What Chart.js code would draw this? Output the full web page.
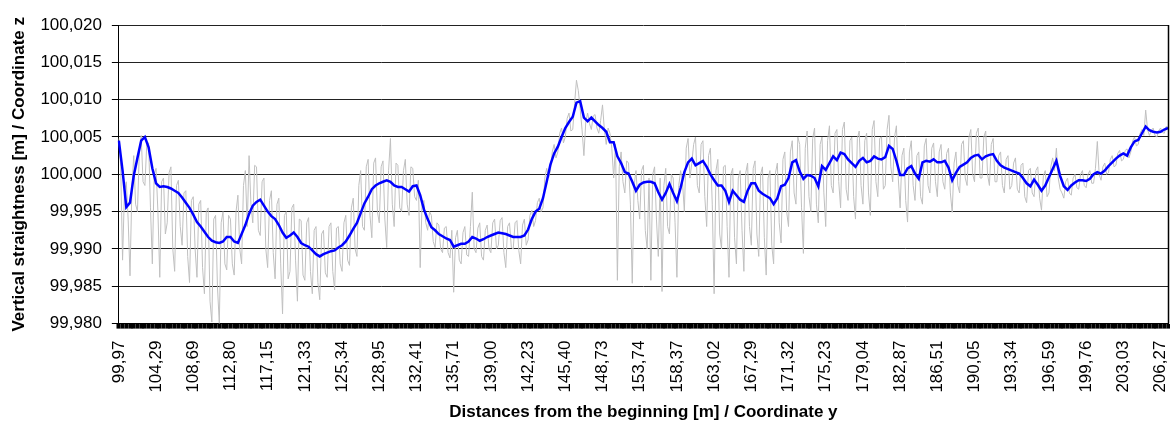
<!DOCTYPE html>
<html lang="en">

<head>
    <meta charset="UTF-8">
    <script src="https://cdn.jsdelivr.net/npm/chart.js@4.4.1/dist/chart.umd.min.js"></script>
    <title>Vertical straightness</title>
    <style>
        body { margin: 0; background: #fff; }
    </style>
</head>

<body>
    <canvas id="myChart" width="1170" height="421"></canvas>
    <script>

        // x labels shown on the axis (one every 10 smoothed points)
        const tickLabels = ['99,97', '104,29', '108,69', '112,80', '117,15', '121,33', '125,34', '128,95', '132,41',
            '135,71', '139,00', '142,23', '145,40', '148,73', '153,74', '158,37', '163,02', '167,29', '171,32',
            '175,23', '179,04', '182,87', '186,51', '190,05', '193,34', '196,59', '199,76', '203,03', '206,27'];
        const pointsPerLabel = 10;

        // y axis
        const yMin = 99.980;
        const yMax = 100.020;
        const yStep = 0.005;

        // smoothed line (blue), 10 points between two labels
        const smoothValues = [
            100.0045, 100.0005, 99.9956, 99.9962, 99.9998, 100.0022, 100.0045, 100.0050, 100.0036, 100.0008,
            99.9988, 99.9983, 99.9984, 99.9983, 99.9981, 99.9978, 99.9975, 99.9969, 99.9962, 99.9955,
            99.9946, 99.9936, 99.9930, 99.9923, 99.9916, 99.9911, 99.9909, 99.9908, 99.9910, 99.9916,
            99.9916, 99.9910, 99.9908, 99.9920, 99.9932, 99.9947, 99.9958, 99.9963, 99.9966, 99.9958,
            99.9950, 99.9944, 99.9940, 99.9932, 99.9922, 99.9915, 99.9918, 99.9922, 99.9916, 99.9908,
            99.9905, 99.9903, 99.9898, 99.9893, 99.9890, 99.9893, 99.9895, 99.9897, 99.9898, 99.9902,
            99.9905, 99.9910, 99.9918, 99.9927, 99.9935, 99.9948, 99.9961, 99.9970, 99.9980, 99.9985,
            99.9988, 99.9990, 99.9992, 99.9990, 99.9985, 99.9983, 99.9983, 99.9980, 99.9977, 99.9984,
            99.9985, 99.9972, 99.9953, 99.9940, 99.9929, 99.9925, 99.9920, 99.9917, 99.9914, 99.9912,
            99.9903, 99.9905, 99.9907, 99.9907, 99.9910, 99.9916, 99.9914, 99.9911, 99.9913, 99.9916,
            99.9918, 99.9920, 99.9922, 99.9921, 99.9920, 99.9918, 99.9916, 99.9916, 99.9916, 99.9918,
            99.9926, 99.9940, 99.9950, 99.9954, 99.9968, 99.9990, 100.0013, 100.0028, 100.0037, 100.0050,
            100.0062, 100.0070, 100.0077, 100.0096, 100.0098, 100.0076, 100.0071, 100.0076, 100.0071, 100.0066,
            100.0062, 100.0057, 100.0043, 100.0043, 100.0024, 100.0015, 100.0003, 100.0001, 99.9990, 99.9978,
            99.9986, 99.9989, 99.9990, 99.9990, 99.9988, 99.9976, 99.9966, 99.9975, 99.9987, 99.9975,
            99.9964, 99.9982, 100.0003, 100.0016, 100.0021, 100.0012, 100.0015, 100.0018, 100.0010, 100.0000,
            99.9992, 99.9985, 99.9985, 99.9978, 99.9963, 99.9978, 99.9972, 99.9966, 99.9963, 99.9978,
            99.9988, 99.9988, 99.9978, 99.9974, 99.9971, 99.9968, 99.9960, 99.9968, 99.9984, 99.9986,
            99.9995, 100.0016, 100.0019, 100.0004, 99.9994, 99.9999, 99.9998, 99.9995, 99.9984, 100.0011,
            100.0006, 100.0015, 100.0024, 100.0019, 100.0029, 100.0027, 100.0020, 100.0015, 100.0010, 100.0018,
            100.0022, 100.0016, 100.0018, 100.0024, 100.0021, 100.0020, 100.0023, 100.0038, 100.0034, 100.0018,
            99.9999, 99.9999, 100.0008, 100.0011, 100.0001, 99.9994, 100.0016, 100.0018, 100.0017, 100.0020,
            100.0016, 100.0016, 100.0018, 100.0009, 99.9992, 100.0002, 100.0010, 100.0013, 100.0016, 100.0022,
            100.0025, 100.0026, 100.0020, 100.0024, 100.0026, 100.0027, 100.0018, 100.0012, 100.0009, 100.0007,
            100.0005, 100.0003, 100.0001, 99.9995, 99.9988, 99.9984, 99.9993, 99.9986, 99.9978, 99.9985,
            99.9996, 100.0007, 100.0018, 99.9998, 99.9984, 99.9979, 99.9985, 99.9989, 99.9992, 99.9992,
            99.9991, 99.9994, 100.0000, 100.0003, 100.0001, 100.0005, 100.0011, 100.0016, 100.0021, 100.0025,
            100.0028, 100.0025, 100.0036, 100.0044, 100.0046, 100.0055, 100.0064, 100.0059, 100.0057, 100.0056,
            100.0057, 100.0060, 100.0062
        ];

        // raw measurements (grey), 20 points between two labels
        const rawValues = [
            100.0048, 100.0010, 99.9885, 99.9975, 99.9990, 99.9940, 99.9864, 99.9978, 100.0025, 99.9960, 99.9950, 100.0030, 100.0052, 99.9990, 99.9985, 100.0040, 100.0042, 99.9955, 99.9880, 100.0000,
            100.0008, 99.9950, 99.9862, 99.9990, 99.9995, 99.9920, 99.9935, 100.0002, 100.0010, 99.9900, 99.9870, 99.9985, 99.9992, 99.9930, 99.9905, 99.9975, 99.9978, 99.9890, 99.9855, 99.9965,
            99.9970, 99.9900, 99.9862, 99.9960, 99.9965, 99.9875, 99.9840, 99.9950, 99.9955, 99.9830, 99.9802, 99.9940, 99.9945, 99.9850, 99.9800, 99.9935, 99.9950, 99.9880, 99.9872, 99.9945,
            99.9940, 99.9880, 99.9865, 99.9950, 99.9972, 99.9900, 99.9880, 99.9985, 100.0005, 99.9930, 100.0025, 99.9960, 99.9935, 100.0012, 100.0010, 99.9925, 99.9918, 99.9990, 99.9995, 99.9900,
            99.9875, 99.9965, 99.9978, 99.9895, 99.9860, 99.9960, 99.9968, 99.9880, 99.9813, 99.9945, 99.9950, 99.9860, 99.9870, 99.9955, 99.9960, 99.9885, 99.9830, 99.9940, 99.9938, 99.9865,
            99.9858, 99.9935, 99.9942, 99.9870, 99.9840, 99.9925, 99.9930, 99.9855, 99.9832, 99.9920, 99.9925, 99.9868, 99.9862, 99.9930, 99.9935, 99.9870, 99.9845, 99.9928, 99.9930, 99.9880,
            99.9870, 99.9935, 99.9945, 99.9885, 99.9878, 99.9955, 99.9968, 99.9900, 99.9890, 99.9985, 100.0005, 99.9930, 99.9925, 100.0010, 100.0020, 99.9945, 99.9915, 100.0015, 100.0022, 99.9950,
            99.9935, 100.0010, 100.0018, 99.9940, 99.9902, 100.0005, 100.0048, 99.9960, 99.9930, 100.0015, 100.0012, 99.9955, 99.9950, 100.0005, 100.0020, 99.9960, 99.9945, 100.0010, 100.0008, 99.9970,
            99.9965, 99.9992, 99.9875, 99.9960, 99.9965, 99.9935, 99.9925, 99.9950, 99.9945, 99.9910, 99.9902, 99.9935, 99.9932, 99.9900, 99.9895, 99.9928, 99.9930, 99.9895, 99.9888, 99.9925,
            99.9842, 99.9915, 99.9925, 99.9885, 99.9880, 99.9922, 99.9930, 99.9892, 99.9890, 99.9930, 99.9976, 99.9900, 99.9895, 99.9928, 99.9935, 99.9890, 99.9885, 99.9925, 99.9932, 99.9900,
            99.9895, 99.9935, 99.9940, 99.9900, 99.9905, 99.9938, 99.9942, 99.9895, 99.9875, 99.9930, 99.9935, 99.9902, 99.9900, 99.9935, 99.9938, 99.9898, 99.9880, 99.9932, 99.9940, 99.9905,
            99.9912, 99.9945, 99.9952, 99.9930, 99.9938, 99.9962, 99.9968, 99.9950, 99.9955, 99.9995, 100.0008, 99.9995, 100.0005, 100.0030, 100.0040, 100.0022, 100.0030, 100.0055, 100.0062, 100.0042,
            100.0050, 100.0075, 100.0082, 100.0058, 100.0060, 100.0095, 100.0126, 100.0112, 100.0088, 100.0060, 100.0025, 100.0070, 100.0082, 100.0068, 100.0060, 100.0078, 100.0080, 100.0062, 100.0055, 100.0072,
            100.0093, 100.0060, 100.0040, 100.0062, 100.0055, 100.0035, 99.9995, 100.0040, 99.9858, 100.0010, 100.0030, 99.9990, 99.9975, 100.0018, 100.0015, 99.9960, 99.9854, 99.9985, 100.0005, 99.9965,
            99.9940, 100.0005, 100.0012, 99.9925, 99.9900, 99.9995, 99.9858, 100.0000, 100.0010, 99.9940, 99.9890, 99.9995, 99.9843, 99.9985, 100.0008, 99.9930, 99.9920, 100.0000, 99.9995, 99.9935,
            99.9862, 99.9985, 100.0005, 99.9990, 99.9950, 100.0035, 100.0048, 99.9995, 100.0015, 100.0040, 100.0050, 99.9985, 99.9975, 100.0040, 100.0045, 99.9970, 99.9930, 100.0025, 100.0035, 99.9960,
            99.9840, 100.0005, 100.0020, 99.9920, 99.9900, 100.0010, 100.0012, 99.9930, 99.9862, 100.0000, 100.0008, 99.9915, 99.9880, 99.9995, 100.0005, 99.9925, 99.9870, 100.0002, 100.0015, 99.9930,
            99.9905, 100.0008, 100.0018, 99.9920, 99.9890, 100.0000, 100.0010, 99.9915, 99.9865, 99.9995, 100.0005, 99.9905, 99.9880, 100.0002, 100.0015, 99.9935, 99.9908, 100.0020, 100.0030, 99.9950,
            99.9930, 100.0030, 100.0045, 99.9975, 99.9960, 100.0050, 100.0040, 99.9955, 99.9894, 100.0035, 100.0058, 99.9970, 99.9950, 100.0048, 100.0062, 99.9960, 99.9935, 100.0040, 100.0050, 99.9975,
            99.9930, 100.0045, 100.0065, 99.9985, 99.9975, 100.0055, 100.0060, 99.9990, 99.9955, 100.0060, 100.0070, 99.9980, 99.9965, 100.0045, 100.0050, 99.9970, 99.9940, 100.0048, 100.0058, 99.9985,
            99.9960, 100.0045, 100.0055, 99.9975, 99.9945, 100.0060, 100.0072, 99.9990, 99.9970, 100.0048, 100.0050, 99.9980, 99.9985, 100.0060, 100.0079, 100.0010, 99.9990, 100.0050, 100.0065, 99.9995,
            99.9955, 100.0025, 100.0035, 99.9965, 99.9936, 100.0030, 100.0045, 99.9985, 99.9965, 100.0025, 100.0030, 99.9970, 99.9960, 100.0038, 100.0048, 99.9985, 99.9975, 100.0035, 100.0042, 99.9990,
            99.9970, 100.0030, 100.0040, 99.9990, 99.9980, 100.0028, 100.0035, 99.9975, 99.9949, 100.0015, 100.0030, 99.9985, 99.9975, 100.0040, 100.0045, 99.9995, 99.9985, 100.0050, 100.0060, 100.0000,
            99.9990, 100.0055, 100.0062, 99.9995, 99.9995, 100.0050, 100.0058, 100.0000, 99.9985, 100.0040, 100.0048, 99.9990, 99.9990, 100.0025, 100.0030, 99.9985, 99.9975, 100.0020, 100.0025, 99.9980,
            99.9985, 100.0015, 100.0022, 99.9980, 99.9975, 100.0012, 100.0015, 99.9970, 99.9962, 100.0005, 100.0008, 99.9975, 99.9970, 100.0005, 100.0010, 99.9968, 99.9952, 99.9998, 100.0005, 99.9970,
            99.9975, 100.0010, 100.0022, 100.0005, 100.0035, 99.9995, 99.9980, 99.9975, 99.9968, 99.9990, 99.9995, 99.9975, 99.9972, 99.9995, 100.0000, 99.9982, 99.9980, 100.0000, 100.0005, 99.9985,
            99.9982, 100.0000, 100.0005, 99.9988, 99.9988, 100.0008, 100.0044, 100.0000, 99.9992, 100.0010, 100.0015, 100.0000, 100.0002, 100.0020, 100.0025, 100.0010, 100.0012, 100.0028, 100.0032, 100.0018,
            100.0020, 100.0032, 100.0034, 100.0022, 100.0030, 100.0045, 100.0050, 100.0038, 100.0040, 100.0055, 100.0060, 100.0052, 100.0086, 100.0060, 100.0052, 100.0058, 100.0062, 100.0052, 100.0050, 100.0058,
            100.0062, 100.0056, 100.0055, 100.0064, 100.0063
        ];

        // every smoothed point is a category, only every 10th one gets a label
        const categories = smoothValues.map((v, i) => i % pointsPerLabel === 0 ? (tickLabels[i / pointsPerLabel] || '') : '');
        // the raw series has its own (hidden) category axis with twice as many points
        const rawCategories = rawValues.map(() => '');

        const fontFamily = '"Liberation Sans", Arial, sans-serif';

        // Chart.js has no frame around the plot, so the right edge is drawn here
        const plotFrame = {
            id: 'plotFrame',
            afterDatasetsDraw(chart) {
                const a = chart.chartArea;
                const c = chart.ctx;
                c.save();
                c.strokeStyle = '#000';
                c.lineWidth = 1.5;
                c.beginPath();
                c.moveTo(Math.round(a.right) + 0.5, a.top);
                c.lineTo(Math.round(a.right) + 0.5, a.bottom);
                c.stroke();
                c.restore();
            }
        };

        var ctx = document.getElementById('myChart').getContext('2d');
        var myChart = new Chart(ctx, {
            type: 'line',
            data: {
                labels: categories,
                datasets: [{
                    label: 'smoothed',
                    data: smoothValues,
                    borderColor: '#0000ff',
                    borderWidth: 2.5,
                    pointRadius: 0,
                    tension: 0,
                    order: 0
                }, {
                    label: 'measured',
                    data: rawValues,
                    xAxisID: 'x2',
                    borderColor: '#c0c0c0',
                    borderWidth: 1,
                    pointRadius: 0,
                    tension: 0,
                    order: 1
                }]
            },
            plugins: [plotFrame],
            options: {
                responsive: false,
                animation: false,
                devicePixelRatio: 1,
                layout: { padding: { top: 25, right: 2, bottom: 0, left: 0 } },
                plugins: {
                    legend: { display: false },
                    tooltip: { enabled: false }
                },
                scales: {
                    x: {
                        offset: false,
                        // the rotated labels make Chart.js keep a margin on the right, the plot runs to the edge here
                        afterFit: scale => { scale.paddingRight = 0; },
                        grid: {
                            drawOnChartArea: false,
                            drawTicks: true,
                            tickLength: 5,
                            tickWidth: 4,
                            tickColor: '#000'
                        },
                        border: { color: '#000', width: 1 },
                        ticks: {
                            autoSkip: false,
                            minRotation: 90,
                            maxRotation: 90,
                            padding: 12,
                            color: '#000',
                            font: { family: fontFamily, size: 17 }
                        },
                        title: {
                            display: true,
                            text: 'Distances from the beginning [m] / Coordinate y',
                            color: '#000',
                            font: { family: fontFamily, size: 17, weight: 'bold' },
                            padding: { top: -2, bottom: -2 }
                        }
                    },
                    x2: {
                        type: 'category',
                        labels: rawCategories,
                        offset: false,
                        display: false
                    },
                    y: {
                        min: yMin,
                        max: yMax,
                        grid: {
                            color: '#222',
                            lineWidth: 1,
                            tickLength: 7,
                            tickColor: '#000'
                        },
                        border: { color: '#000', width: 1 },
                        ticks: {
                            stepSize: yStep,
                            padding: 10,
                            color: '#000',
                            font: { family: fontFamily, size: 17 },
                            callback: v => v.toFixed(3).replace('.', ',')
                        },
                        title: {
                            display: true,
                            text: 'Vertical straightness [m] / Coordinate z',
                            color: '#000',
                            font: { family: fontFamily, size: 17, weight: 'bold' },
                            padding: { top: 9, bottom: 1 }
                        }
                    }
                }
            }
        });

    </script>

</body>

</html>
